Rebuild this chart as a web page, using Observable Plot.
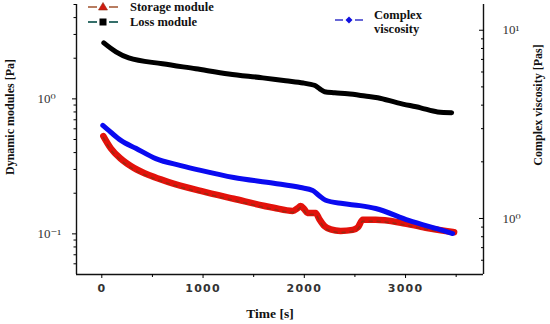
<!DOCTYPE html>
<html><head><meta charset="utf-8">
<script src="https://cdn.jsdelivr.net/npm/d3@7"></script>
<script src="https://cdn.jsdelivr.net/npm/@observablehq/plot@0.6"></script>
<style>
html,body{margin:0;padding:0;background:#fff;}
#chart{position:relative;width:550px;height:324px;}
#chart svg{position:absolute;left:0;top:0;}
</style></head><body><div id="chart"></div>
<script>
// ---- data ----
const lossTime  = [20,140,266,600,928,1254,1590,1816,1990,2063,2100,2150,2200,2300,2428,2600,2725,2922,3149,3317,3455];
const lossValue = [2.60,2.23,2.01,1.82,1.67,1.53,1.43,1.36,1.31,1.28,1.26,1.19,1.13,1.11,1.09,1.05,1.02,0.934,0.858,0.80,0.79];

const storageTime  = [15,89,188,316,484,652,977,1303,1698,1885,1935,1964,2000,2030,2112,2150,2200,2260,2359,2478,2530,2577,2705,2952,3198,3396,3480];
const storageValue = [0.53,0.43,0.36,0.308,0.269,0.243,0.208,0.182,0.156,0.148,0.155,0.161,0.152,0.143,0.143,0.128,0.114,0.108,0.105,0.107,0.112,0.127,0.127,0.121,0.111,0.105,0.103];

const viscTime  = [10,89,188,336,533,780,977,1303,1698,1964,2083,2142,2211,2379,2550,2705,3031,3366,3465];
const viscValue = [3.12,2.87,2.60,2.36,2.08,1.91,1.80,1.65,1.54,1.46,1.41,1.33,1.25,1.20,1.17,1.13,0.976,0.864,0.832];

const xDomain = [-250, 3770];
const xMajor = [0, 1000, 2000, 3000];
const xMinor = [500, 1500, 2500, 3500];
const yLeftDomain = [0.05, 5];
const yLeftMajor = [0.1, 1];
const yLeftMinor = [0.06,0.07,0.08,0.09,0.2,0.3,0.4,0.5,0.6,0.7,0.8,0.9,2,3,4,5];
const yLeftLabels = {"0.1":"10\u207B\u00B9", "1":"10\u2070"};
const yRightDomain = [0.504, 13.7];
const yRightMajor = [1, 10];
const yRightMinor = [0.6,0.7,0.8,0.9,2,3,4,5,6,7,8,9];
const yRightLabels = {"1":"10\u2070", "10":"10\u00B9"};

const loss = lossTime.map((t,i)=>({t, v:lossValue[i]}));
const storage = storageTime.map((t,i)=>({t, v:storageValue[i]}));
const visc = viscTime.map((t,i)=>({t, v:viscValue[i]}));

const W=550, H=324, M={top:4,right:67,bottom:50,left:76};
const serif = "'Liberation Serif','DejaVu Serif',serif";
const sans = "'DejaVu Sans',Verdana,sans-serif";

const common = {width:W, height:H, marginTop:M.top, marginRight:M.right, marginBottom:M.bottom, marginLeft:M.left,
  style:{background:"transparent", fontFamily:serif, overflow:"visible"}};

const leftPlot = Plot.plot({
  ...common,
  x:{domain:xDomain},
  y:{type:"log", domain:yLeftDomain},
  marks:[
    Plot.line(storage,{x:"t", y:"v", stroke:"#e3120b", strokeWidth:6.5, curve:"monotone-x"}),
    Plot.line(storage,{x:"t", y:"v", stroke:"#8a2f12", strokeWidth:1.5, strokeDasharray:"3,5", dy:1.5, curve:"monotone-x", strokeOpacity:0.8}),
    Plot.line(loss,{x:"t", y:"v", stroke:"#000", strokeWidth:5, curve:"monotone-x"}),
    Plot.ruleX([xDomain[0]], {stroke:"#111", strokeWidth:1.4}),
    Plot.ruleY([yLeftDomain[0]], {stroke:"#111", strokeWidth:1.4}),
    Plot.axisX({ticks:xMajor, tickSize:4, tickPadding:6, tickFormat:d=>String(d), label:null, fontFamily:sans, fontWeight:"bold", fontSize:11, fill:"#333"}),
    Plot.axisX({ticks:xMinor, tickSize:3, tickFormat:()=>"", label:null}),
    Plot.axisY({ticks:yLeftMajor, tickSize:4, tickPadding:35, textAnchor:"start", tickFormat:d=>yLeftLabels[String(d)], label:null, fontSize:13, fill:"#333"}),
    Plot.axisY({ticks:yLeftMinor, tickSize:2.5, tickFormat:()=>"", label:null})
  ]
});

const rightPlot = Plot.plot({
  ...common,
  x:{domain:xDomain, axis:null},
  y:{type:"log", domain:yRightDomain, axis:null},
  marks:[
    Plot.line(visc,{x:"t", y:"v", stroke:"#0a0af0", strokeWidth:5, curve:"monotone-x"}),
    Plot.ruleX([xDomain[1]], {stroke:"#111", strokeWidth:1.4}),
    Plot.axisY({anchor:"right", ticks:yRightMajor, tickSize:-5, tickPadding:24, tickFormat:d=>yRightLabels[String(d)], label:null, fontSize:13, fill:"#333"}),
    Plot.axisY({anchor:"right", ticks:yRightMinor, tickSize:-3, tickFormat:()=>"", label:null})
  ]
});

const chart = document.getElementById("chart");
chart.appendChild(leftPlot);
chart.appendChild(rightPlot);

d3.select(leftPlot).selectAll('g[aria-label="x-axis tick label"] text').style("letter-spacing","1.2px");

// ---- titles and legend (layout) ----
const s = d3.select(rightPlot);
const tfont = (sel,size)=>sel.attr("font-family",serif).attr("font-weight","bold").attr("font-size",size).attr("fill","#111");
tfont(s.append("text").attr("x",270).attr("y",318).attr("text-anchor","middle").text("Time [s]"),13.5);
tfont(s.append("text").attr("transform","translate(14,117) rotate(-90)").attr("text-anchor","middle").text("Dynamic modules [Pa]"),12);
tfont(s.append("text").attr("transform","translate(542,105) rotate(-90)").attr("text-anchor","middle").text("Complex viscosity [Pas]"),12);

const lg = s.append("g").attr("text-anchor","start");
const seg = (x1,x2,y,c,w)=>lg.append("line").attr("x1",x1).attr("x2",x2).attr("y1",y).attr("y2",y).attr("stroke",c).attr("stroke-width",w);
// storage
seg(88,97,7,"#a0522d",1.5); seg(109,118,7,"#a0522d",1.5);
lg.append("path").attr("d","M103,2.5L107.5,10L98.5,10Z").attr("fill","#d01a10").attr("stroke","#8a2f12").attr("stroke-width",0.6);
tfont(lg.append("text").attr("x",130).attr("y",11).attr("text-anchor","start").text("Storage module"),12.5);
// loss
seg(88,97,22,"#1f5f5a",1.8); seg(109,118,22,"#1f5f5a",1.8);
lg.append("rect").attr("x",99.5).attr("y",18.5).attr("width",7).attr("height",7).attr("fill","#000");
tfont(lg.append("text").attr("x",130).attr("y",26).attr("text-anchor","start").text("Loss module"),12.5);
// complex viscosity
seg(335,343,20,"#3535c8",1.5); seg(355,363,20,"#3535c8",1.5);
lg.append("path").attr("d","M349,16.5L352.5,20L349,23.5L345.5,20Z").attr("fill","#1010e0");
tfont(lg.append("text").attr("x",374).attr("y",19).attr("text-anchor","start").text("Complex"),12.5);
tfont(lg.append("text").attr("x",374).attr("y",33).attr("text-anchor","start").text("viscosity"),12.5);
</script></body></html>
